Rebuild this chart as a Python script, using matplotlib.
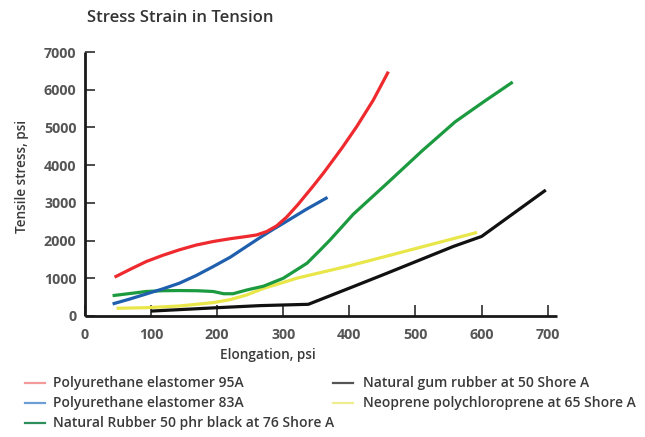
import matplotlib
matplotlib.use("Agg")
import matplotlib.pyplot as plt
from matplotlib.lines import Line2D

plt.rcParams['font.family'] = ['Open Sans', 'DejaVu Sans']

# ---- data ----
title = "Stress Strain in Tension"
x_label = "Elongation, psi"
y_label = "Tensile stress, psi"
x_ticks = [0, 100, 200, 300, 400, 500, 600, 700]
y_ticks = [0, 1000, 2000, 3000, 4000, 5000, 6000, 7000]

pu95_x = [45, 70, 93, 118, 143, 168, 194, 220, 245, 260, 275, 290, 305, 322, 345, 361, 376, 389, 411, 436, 459]
pu95_y = [1030, 1250, 1445, 1610, 1755, 1880, 1975, 2050, 2110, 2150, 2240, 2390, 2620, 2950, 3440, 3795, 4150, 4460, 5020, 5720, 6480]

pu83_x = [42, 70, 93, 118, 143, 168, 194, 220, 245, 265, 285, 305, 335, 367]
pu83_y = [320, 460, 585, 720, 870, 1070, 1310, 1560, 1850, 2080, 2300, 2510, 2830, 3145]

nr_x = [42, 70, 93, 118, 143, 170, 194, 210, 224, 245, 270, 300, 336, 356, 371, 406, 459, 510, 560, 603, 647]
nr_y = [540, 600, 650, 670, 675, 670, 650, 590, 590, 690, 790, 1000, 1400, 1750, 2020, 2700, 3550, 4380, 5150, 5680, 6205]

gum_x = [100, 200, 265, 338, 406, 457, 507, 557, 600, 697]
gum_y = [130, 220, 275, 310, 780, 1135, 1489, 1843, 2110, 3340]

neo_x = [48, 93, 143, 194, 219, 245, 270, 300, 320, 356, 400, 457, 593]
neo_y = [205, 220, 265, 355, 430, 560, 730, 890, 1000, 1150, 1330, 1590, 2216]

labels = ["Polyurethane elastomer 95A",
          "Polyurethane elastomer 83A",
          "Natural Rubber 50 phr black at 76 Shore A",
          "Natural gum rubber at 50 Shore A",
          "Neoprene polychloroprene at 65 Shore A"]

line_colors = ["#ee2a2e", "#1f5fad", "#1c9a3f", "#111111", "#e9e64a"]
legend_colors = ["#f39a9a", "#6d9fd6", "#2f8f5a", "#555555", "#eeee90"]

# ---- figure ----
fig = plt.figure(figsize=(6.45, 4.37), dpi=100)
ax = fig.add_axes([0.1315, 0.2769, 0.7321, 0.604])

series = [(pu95_x, pu95_y), (pu83_x, pu83_y), (nr_x, nr_y), (gum_x, gum_y), (neo_x, neo_y)]
order = [4, 3, 2, 1, 0]
for i in order:
    xs, ys = series[i]
    ax.plot(xs, ys, color=line_colors[i], lw=2.3, solid_joinstyle='round',
            solid_capstyle='butt', zorder=3 + (1 if i == 3 else 0))

ax.set_xlim(0, 714)
ax.set_ylim(0, 7000)
ax.set_xticks(x_ticks)
ax.set_yticks(y_ticks)
ax.set_xticklabels([str(t) for t in x_ticks])
ax.set_yticklabels([str(t) for t in y_ticks])

for s in ['top', 'right']:
    ax.spines[s].set_visible(False)
for s in ['left', 'bottom']:
    ax.spines[s].set_linewidth(2.0)
    ax.spines[s].set_color('#1a1a1a')
    ax.spines[s].set_capstyle('butt')

ax.tick_params(axis='y', direction='in', length=7, width=1.1, color='#1a1a1a', pad=6)
ax.tick_params(axis='x', direction='in', length=8, width=1.1, color='#1a1a1a', pad=9)
for lab in ax.get_xticklabels() + ax.get_yticklabels():
    lab.set_fontsize(10.3)
    lab.set_fontweight('bold')
    lab.set_color('#555555')

fig.text(0.279, 0.958, title, fontsize=12, fontweight='semibold', color='#333333',
         ha='center', va='center')
fig.text(0.4155, 0.187, x_label, fontsize=9.8, fontweight='semibold', color='#3a3a3a',
         ha='center', va='center')
fig.text(0.034, 0.597, y_label, fontsize=9.8, fontweight='semibold', color='#3a3a3a',
         ha='center', va='center', rotation=90)

# ---- legend (manual two-column layout) ----
rows_y = [1 - 382.5 / 437, 1 - 402.5 / 437, 1 - 423 / 437]
col_x = [(25 / 645, 45 / 645, 53 / 645), (333 / 645, 353 / 645, 363 / 645)]
positions = [(0, 0), (0, 1), (0, 2), (1, 0), (1, 1)]
for i, (c, r) in enumerate(positions):
    x0, x1, xt = col_x[c]
    y = rows_y[r]
    fig.add_artist(Line2D([x0, x1], [y, y], transform=fig.transFigure,
                          color=legend_colors[i], lw=1.6))
    fig.text(xt, y, labels[i], fontsize=10, fontweight='semibold', color='#3a3a3a',
             ha='left', va='center')

fig.savefig("out.png", dpi=100, facecolor='white')
